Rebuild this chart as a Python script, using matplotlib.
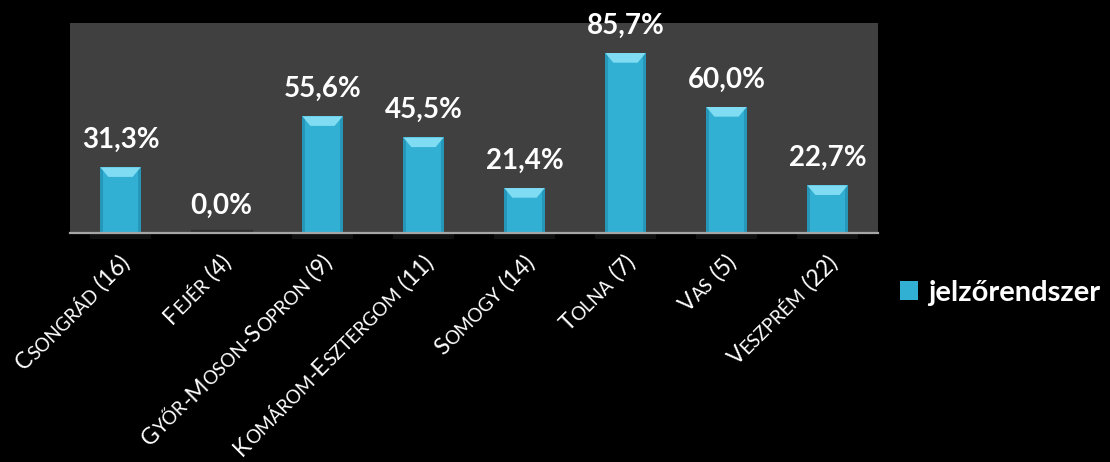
import matplotlib

matplotlib.use("Agg")
import matplotlib.pyplot as plt
from matplotlib.patches import Polygon, Rectangle
from matplotlib.transforms import IdentityTransform
from matplotlib.font_manager import FontProperties

counties = ["Csongrád (16)", "Fejér (4)", "Győr-Moson-Sopron (9)", "Komárom-Esztergom (11)",
            "Somogy (14)", "Tolna (7)", "Vas (5)", "Veszprém (22)"]
values = [31.3, 0.0, 55.6, 45.5, 21.4, 85.7, 60.0, 22.7]
series_name = "jelzőrendszer"

FONT = "Lato"
BAR = "#31b0d3"
BAR_TOP = "#7fdcf2"
BAR_SIDE = "#2697b8"

fig = plt.figure(figsize=(11.10, 4.62), dpi=100, facecolor="black")
ax = fig.add_axes([70 / 1110, 1 - 233 / 462, 808 / 1110, 210 / 462])
ax.set_facecolor("#404040")

x = list(range(len(values)))
width = 0.4
bars = ax.bar(x, values, width=width, color=BAR, linewidth=0, zorder=2, label=series_name)

# bevel look: light top, darker side strips
bev_h = 4.6
inset = 0.08
side = 0.03
for xi, v in zip(x, values):
    left, right = xi - width / 2, xi + width / 2
    if v <= 0:
        ax.add_patch(Rectangle((xi - 0.3, 0), 0.6, 1.6, color="#2e2e2e", zorder=1))
        continue
    h = min(bev_h, v)
    ax.add_patch(Rectangle((left, 0), side, v, color=BAR_SIDE, lw=0, zorder=3))
    ax.add_patch(Rectangle((right - side, 0), side, v, color=BAR_SIDE, lw=0, zorder=3))
    ax.add_patch(Polygon([(left, v), (right, v), (right - inset, v - h), (left + inset, v - h)],
                         closed=True, color=BAR_TOP, lw=0, zorder=4))
    ax.add_patch(Rectangle((xi - 0.3, -3), 0.6, 3, color="#101010", lw=0, zorder=1, clip_on=False))

for xi, v in zip(x, values):
    ax.annotate(f"{v:.1f}%".replace(".", ","), (xi, v), xytext=(0, 14), textcoords="offset points",
                ha="center", va="baseline", color="white", fontsize=20, fontweight="bold",
                family=FONT, annotation_clip=False)

ax.set_xlim(-0.5, len(values) - 0.5)
ax.set_ylim(0, 100)
ax.set_yticks([])
ax.set_xticks([])
for s in ["top", "right", "left"]:
    ax.spines[s].set_visible(False)
ax.spines["bottom"].set_color("#a6a6a6")
ax.spines["bottom"].set_linewidth(1.6)
ax.spines["bottom"].set_zorder(5)

# small caps tick labels, rotated 45 degrees, right end at the tick
big = FontProperties(family=FONT, size=16.5)
small = FontProperties(family=FONT, size=13.5)


def pieces(label):
    out = []
    for ch in label:
        prop = small if ch.islower() else big
        ch = ch.upper()
        if out and out[-1][1] is prop:
            out[-1][0] += ch
        else:
            out.append([ch, prop])
    return out


fig.canvas.draw()
renderer = fig.canvas.get_renderer()


def advance(txt, prop):
    w1 = renderer.get_text_width_height_descent("|" + txt + "|", prop, ismath=False)[0]
    w0 = renderer.get_text_width_height_descent("||", prop, ismath=False)[0]
    return w1 - w0


c45 = 0.70710678
for xi, label in zip(x, counties):
    ex, ey = ax.transData.transform((xi, 0))
    ex, ey = ex + 11, ey - 31
    parts = pieces(label)
    widths = [advance(t, p) for t, p in parts]
    pos = -sum(widths)
    for (txt, prop), w in zip(parts, widths):
        ax.text(ex + pos * c45, ey + pos * c45, txt, transform=IdentityTransform(), rotation=45,
                rotation_mode="anchor", ha="left", va="baseline", color="white",
                fontproperties=prop, clip_on=False)
        pos += w

fig.legend(handles=[bars], labels=[series_name], loc="center left", bbox_to_anchor=(900 / 1110, 1 - 293 / 462),
           frameon=False, borderpad=0, borderaxespad=0, handlelength=0.62, handleheight=0.62,
           handletextpad=0.35, prop=FontProperties(family=FONT, size=21, weight="bold"),
           labelcolor="white")

fig.savefig("out.png", dpi=100, facecolor="black")
